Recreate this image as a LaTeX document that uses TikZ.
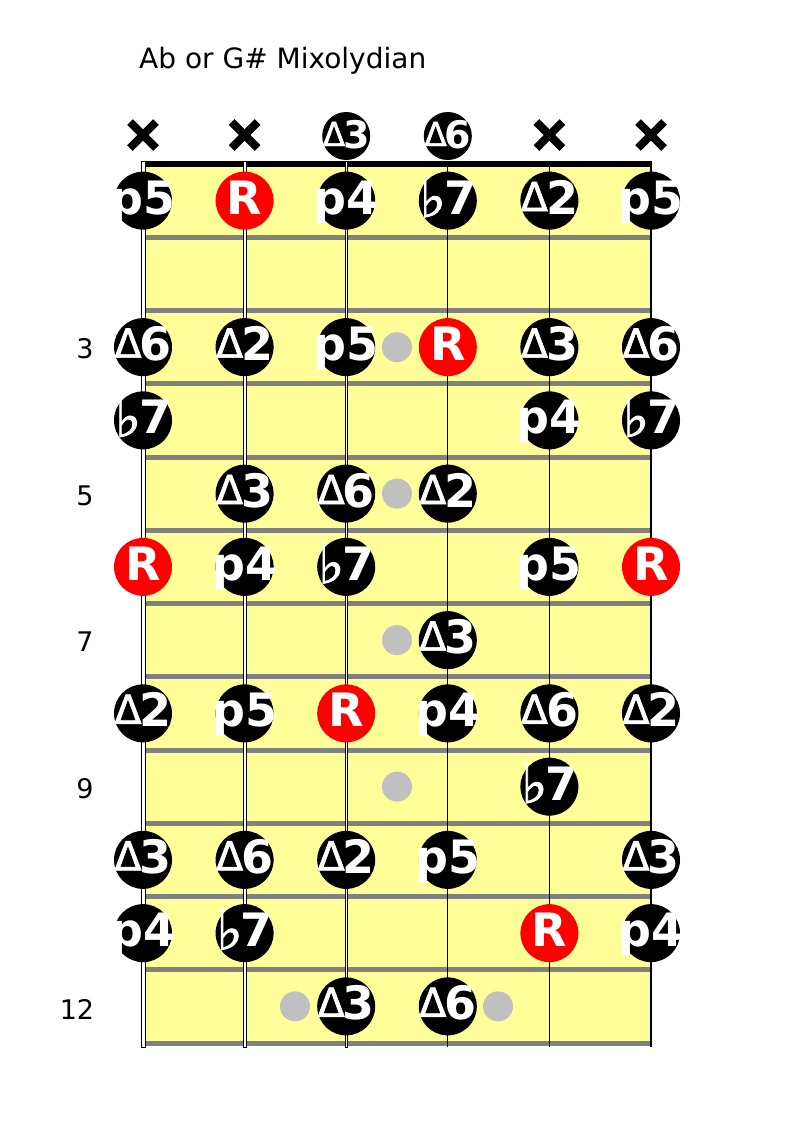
\documentclass[tikz,border=0pt]{standalone}
\usepackage{fontspec}
\setmainfont{DejaVu Sans}
\newfontfamily\flatfont[FakeBold=1.5]{DejaVu Sans}
\newfontfamily\deltafont[FakeBold=1.4]{DejaVu Sans}
\definecolor{board}{HTML}{FFFF99}
\definecolor{fretgray}{HTML}{808080}
\definecolor{dotgray}{HTML}{C0C0C0}
\newcommand{\myD}[1]{\raisebox{3pt}{\deltafont\mdseries\fontsize{40}{40}\selectfont Δ}\kern-2pt#1}
\newcommand{\mySD}[1]{\raisebox{2pt}{\deltafont\mdseries\fontsize{33}{33}\selectfont Δ}\kern-2pt#1}
\newcommand{\myF}[1]{\raisebox{-3pt}{\flatfont\mdseries\fontsize{56}{56}\selectfont ♭}\kern-2pt#1}
\newcommand{\nt}[5]{%
  \node[#5] (#1) at ({143+101.6*(#2-1)},{164+73.25*(#3-0.5)}) {};
  \node[lab] (#1t) at ([yshift=3]#1.center) {#4};}
\begin{document}
\begin{tikzpicture}[x=1pt,y=-1pt,
  note/.style={circle,fill=black,minimum size=58,inner sep=0},
  root/.style={note,fill=red},
  opennote/.style={circle,fill=black,minimum size=48,inner sep=0},
  lab/.style={text=white,font=\fontsize{46}{46}\bfseries,inner sep=0,
    text height=33,text depth=0},
  smalllab/.style={text=white,font=\fontsize{38}{38}\bfseries,inner sep=0,
    text height=28,text depth=0},
  gdot/.style={circle,fill=dotgray,minimum size=30,inner sep=0},
  fretnum/.style={font=\fontsize{27}{27}\selectfont,inner sep=0},
  xmark/.style={line width=8},
  fretline/.style={fretgray,line width=5},
]
\useasboundingbox (0,0) rectangle (792,1122);
% title
\node[font=\fontsize{28}{28}\selectfont,anchor=base west,inner sep=0] (title) at (139,68) {Ab or G\# Mixolydian};
% board
\fill[board] (145,164) rectangle (651,1046);
\foreach \k in {1,...,12} {
  \draw[fretline] (145,{164+73.25*\k}) -- (651,{164+73.25*\k});
}
\fill[black] (143,161) rectangle (652,167);
% strings
\filldraw[fill=white,draw=black,line width=1] (141.2,161) rectangle (145.2,1047);
\filldraw[fill=white,draw=black,line width=1] (243.2,161) rectangle (246.4,1047);
\filldraw[fill=white,draw=black,line width=0.9] (345.0,161) rectangle (347.6,1047);
\draw[black,line width=1.2] (447.8,161) -- (447.8,1047);
\draw[black,line width=1.2] (549.4,161) -- (549.4,1047);
\draw[black,line width=1.2] (651,161) -- (651,1047);
% fret numbers
\node[fretnum] (f3) at (85,349) {3};
\node[fretnum] (f5) at (85,496) {5};
\node[fretnum] (f7) at (85,642) {7};
\node[fretnum] (f9) at (85,789) {9};
\node[fretnum] (f12) at (77,1009) {12};
% inlay dots
\node[gdot] (d3) at (397,{164+73.25*2.5}) {};
\node[gdot] (d5) at (397,{164+73.25*4.5}) {};
\node[gdot] (d7) at (397,{164+73.25*6.5}) {};
\node[gdot] (d9) at (397,{164+73.25*8.5}) {};
\node[gdot] (d12a) at (295,{164+73.25*11.5}) {};
\node[gdot] (d12b) at (498,{164+73.25*11.5}) {};
% open strings
\foreach \xx/\nm in {143/xa,244.6/xb,549.4/xc,651/xd} {
  \draw[xmark] (\xx-13,122) -- (\xx+13,148);
  \draw[xmark] (\xx-13,148) -- (\xx+13,122);
}
\node[opennote] (o3) at (346.2,136) {};
\node[smalllab] (o3t) at ([yshift=2]o3.center) {\mySD{3}};
\node[opennote] (o4) at (447.8,136) {};
\node[smalllab] (o4t) at ([yshift=2]o4.center) {\mySD{6}};
% fret 1
\nt{a1}{1}{1}{p5}{note}
\nt{a2}{2}{1}{R}{root}
\nt{a3}{3}{1}{p4}{note}
\nt{a4}{4}{1}{\myF{7}}{note}
\nt{a5}{5}{1}{\myD{2}}{note}
\nt{a6}{6}{1}{p5}{note}
% fret 3
\nt{c1}{1}{3}{\myD{6}}{note}
\nt{c2}{2}{3}{\myD{2}}{note}
\nt{c3}{3}{3}{p5}{note}
\nt{c4}{4}{3}{R}{root}
\nt{c5}{5}{3}{\myD{3}}{note}
\nt{c6}{6}{3}{\myD{6}}{note}
% fret 4
\nt{e1}{1}{4}{\myF{7}}{note}
\nt{e5}{5}{4}{p4}{note}
\nt{e6}{6}{4}{\myF{7}}{note}
% fret 5
\nt{g2}{2}{5}{\myD{3}}{note}
\nt{g3}{3}{5}{\myD{6}}{note}
\nt{g4}{4}{5}{\myD{2}}{note}
% fret 6
\nt{h1}{1}{6}{R}{root}
\nt{h2}{2}{6}{p4}{note}
\nt{h3}{3}{6}{\myF{7}}{note}
\nt{h5}{5}{6}{p5}{note}
\nt{h6}{6}{6}{R}{root}
% fret 7
\nt{i4}{4}{7}{\myD{3}}{note}
% fret 8
\nt{j1}{1}{8}{\myD{2}}{note}
\nt{j2}{2}{8}{p5}{note}
\nt{j3}{3}{8}{R}{root}
\nt{j4}{4}{8}{p4}{note}
\nt{j5}{5}{8}{\myD{6}}{note}
\nt{j6}{6}{8}{\myD{2}}{note}
% fret 9
\nt{k5}{5}{9}{\myF{7}}{note}
% fret 10
\nt{l1}{1}{10}{\myD{3}}{note}
\nt{l2}{2}{10}{\myD{6}}{note}
\nt{l3}{3}{10}{\myD{2}}{note}
\nt{l4}{4}{10}{p5}{note}
\nt{l6}{6}{10}{\myD{3}}{note}
% fret 11
\nt{m1}{1}{11}{p4}{note}
\nt{m2}{2}{11}{\myF{7}}{note}
\nt{m5}{5}{11}{R}{root}
\nt{m6}{6}{11}{p4}{note}
% fret 12
\nt{n3}{3}{12}{\myD{3}}{note}
\nt{n4}{4}{12}{\myD{6}}{note}
\end{tikzpicture}
\end{document}
